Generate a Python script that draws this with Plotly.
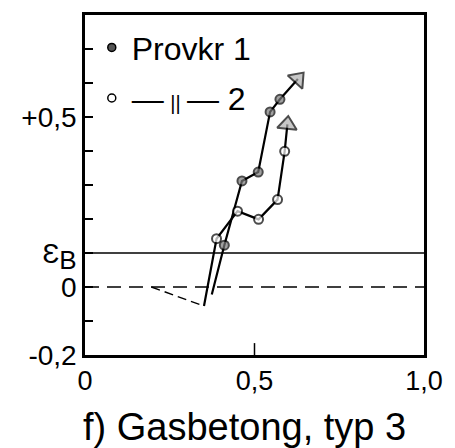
import plotly.graph_objects as go

# Series 1 (Provkr 1), filled markers; last point is the arrow head
s1_x = [0.374, 0.411, 0.463, 0.511, 0.546, 0.575, 0.628]
s1_y = [-0.022, 0.123, 0.312, 0.338, 0.515, 0.552, 0.612]

# Series 2 (Provkr 2), open markers; dashed lead-in then solid, last point arrow head
s2_lead_x = [0.196, 0.351]
s2_lead_y = [0.000, -0.056]
s2_x = [0.351, 0.388, 0.450, 0.512, 0.568, 0.589, 0.597]
s2_y = [-0.056, 0.142, 0.223, 0.199, 0.257, 0.399, 0.478]

# Reference lines
eps_b = 0.1
zero_line = 0.0

ytick_vals = [-0.2, 0.0, 0.1, 0.5]
ytick_text = ["-0,2", "0", "Ɛ<sub><span style='font-size:26px'>B</span></sub>", "+0,5"]
xtick_vals = [0.0, 0.5, 1.0]
xtick_text = ["0", "0,5", "1,0"]

legend_names = ["Provkr 1", "—\u2009<span style='font-size:20px'>||</span>\u2009— 2"]

FONT = "Liberation Sans, Arial, DejaVu Sans"

fig = go.Figure()

def sizes(n, arrow=17, first_visible=True):
    s = [9] * n
    if not first_visible:
        s[0] = 0
    s[-1] = arrow
    return s

def symbols(n):
    return ["circle"] * (n - 1) + ["triangle-up"]

fig.add_trace(go.Scatter(
    x=s2_lead_x, y=s2_lead_y, mode="lines",
    line=dict(color="black", width=1.4, dash="9px,5px"),
    showlegend=False, hoverinfo="skip"))

fig.add_trace(go.Scatter(
    x=s1_x, y=s1_y, mode="lines+markers",
    line=dict(color="black", width=2.2),
    marker=dict(symbol=symbols(len(s1_x)), size=sizes(len(s1_x), first_visible=False),
                color=["#7a7a7a"] * (len(s1_x) - 1) + ["#b0b0b0"],
                angleref="previous",
                line=dict(color="black", width=2)),
    showlegend=False))

fig.add_trace(go.Scatter(
    x=s2_x, y=s2_y, mode="lines+markers",
    line=dict(color="black", width=2.2),
    marker=dict(symbol=symbols(len(s2_x)), size=sizes(len(s2_x)),
                color=["white"] * (len(s2_x) - 1) + ["#b0b0b0"],
                angleref="previous",
                line=dict(color="black", width=2)),
    showlegend=False))

# legend entries
fig.add_trace(go.Scatter(x=[None], y=[None], mode="markers", name=legend_names[0],
                         legendgroup="a",
                         marker=dict(symbol="circle", size=8, color="#555",
                                     line=dict(color="black", width=1.5))))
fig.add_trace(go.Scatter(x=[None], y=[None], mode="markers", name=legend_names[1],
                         legendgroup="b",
                         marker=dict(symbol="circle", size=8, color="white",
                                     line=dict(color="black", width=1.5))))

fig.add_hline(y=eps_b, line=dict(color="black", width=1.6))
fig.add_hline(y=zero_line, line=dict(color="black", width=1.6, dash="14px,8px"))

fig.update_layout(
    width=455, height=448,
    margin=dict(l=85, r=22, t=13, b=93),
    paper_bgcolor="white", plot_bgcolor="white",
    font=dict(family=FONT, color="black", size=26),
    showlegend=True,
    legend=dict(x=0.02, y=0.985, xanchor="left", yanchor="top",
                bgcolor="rgba(0,0,0,0)", font=dict(size=32, family=FONT),
                itemwidth=30, tracegroupgap=6),
    xaxis=dict(range=[0, 1], showgrid=False, zeroline=False,
               tickvals=xtick_vals, ticktext=xtick_text,
               ticks="", showline=True, linecolor="black", linewidth=2.5,
               mirror=True, ticklabeloverflow="allow",
               tickfont=dict(size=27, family=FONT)),
    yaxis=dict(range=[-0.2, 0.8], showgrid=False, zeroline=False,
               tickvals=ytick_vals, ticktext=ytick_text,
               ticks="inside", ticklen=8, tickwidth=1.5, tickcolor="black",
               minor=dict(ticks="inside", dtick=0.1, tick0=0, ticklen=8,
                          tickwidth=1.5, tickcolor="black"),
               showline=True, linecolor="black", linewidth=2.5,
               mirror=True, tickfont=dict(size=28, family=FONT)),
    annotations=[dict(text="f) Gasbetong, typ 3", xref="paper", yref="paper",
                      x=0.47, y=-0.213, xanchor="center", yanchor="middle",
                      showarrow=False, font=dict(size=38, family=FONT))],
)

# single inside tick at x = 0.5 on the bottom edge
fig.add_shape(type="line", xref="x", yref="paper", x0=0.5, x1=0.5, y0=0, y1=0.035,
              line=dict(color="black", width=1.5))

# remove the default page margin so the figure fills the window exactly
fig.write_html("out.html",
               config={"displayModeBar": False},
               post_script="document.body.style.margin='0';document.body.style.overflow='hidden';")
